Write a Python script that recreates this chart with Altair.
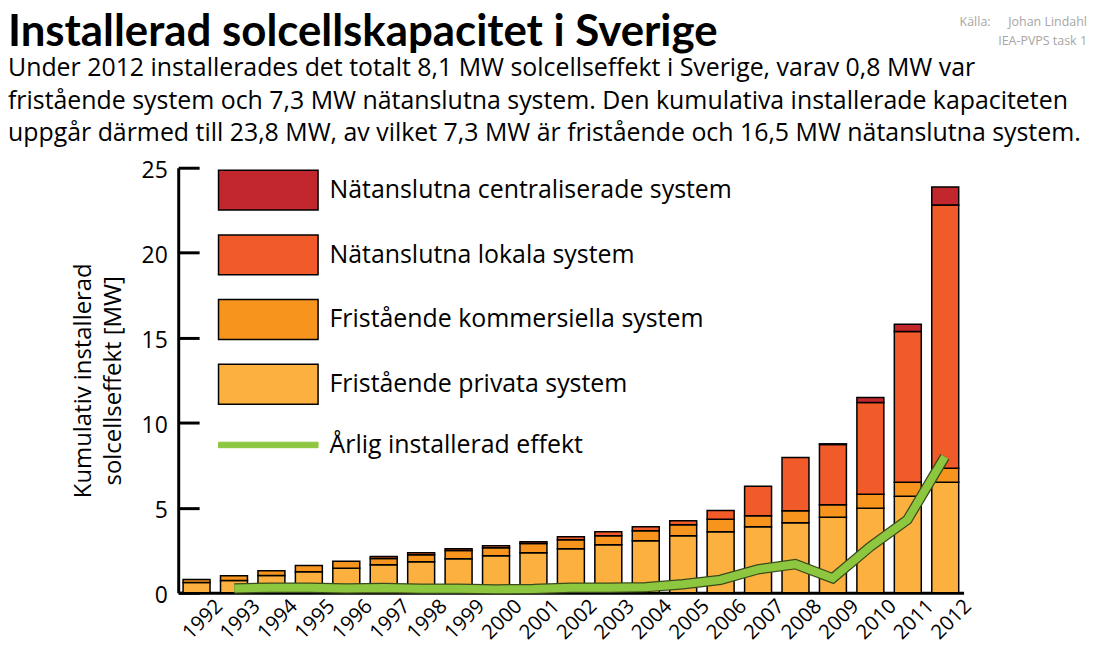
import altair as alt
import pandas as pd

FONT = "Open Sans"
TITLE_FONT = "Lato"

years = [str(y) for y in range(1992, 2013)]
privata = [0.61, 0.72, 1.01, 1.24, 1.44, 1.65, 1.83, 2.00, 2.18, 2.36, 2.59,
           2.83, 3.06, 3.36, 3.59, 3.88, 4.12, 4.44, 4.97, 5.68, 6.50]
kommersiella = [0.17, 0.28, 0.29, 0.36, 0.41, 0.36, 0.41, 0.48, 0.47, 0.54, 0.53,
                0.53, 0.59, 0.64, 0.73, 0.65, 0.71, 0.74, 0.82, 0.82, 0.82]
lokala = [0, 0, 0, 0, 0, 0.12, 0.12, 0.11, 0.12, 0.10, 0.18,
          0.23, 0.23, 0.24, 0.52, 1.73, 3.13, 3.54, 5.40, 8.86, 15.49]
centraliserade = [0, 0, 0, 0, 0, 0, 0, 0, 0, 0, 0,
                  0, 0, 0, 0, 0, 0, 0.04, 0.29, 0.43, 1.06]

line_years = ["1993", "1994", "1995", "1996", "1997", "1998", "1999", "2000", "2001", "2002",
              "2003", "2004", "2005", "2006", "2007", "2008", "2009", "2010", "2011", "2012"]
annual = [0.25, 0.30, 0.30, 0.25, 0.28, 0.23, 0.23, 0.20, 0.22, 0.30,
          0.30, 0.33, 0.50, 0.76, 1.38, 1.68, 0.85, 2.70, 4.30, 8.00]

series_names = ["Nätanslutna centraliserade system", "Nätanslutna lokala system",
                "Fristående kommersiella system", "Fristående privata system"]
series_colors = ["#c1272d", "#f15a29", "#f7941e", "#fbb040"]
line_name = "Årlig installerad effekt"

title_text = "Installerad solcellskapacitet i Sverige"
subtitle_lines = [
    "Under 2012 installerades det totalt 8,1 MW solcellseffekt i Sverige, varav 0,8 MW var",
    "fristående system och 7,3 MW nätanslutna system. Den kumulativa installerade kapaciteten",
    "uppgår därmed till 23,8 MW, av vilket 7,3 MW är fristående och 16,5 MW nätanslutna system.",
]
source_label = "Källa:"
source_lines = ["Johan Lindahl", "IEA-PVPS task 1"]

rows = []
for i, y in enumerate(years):
    for ordv, (name, vals) in enumerate([(series_names[3], privata), (series_names[2], kommersiella),
                                         (series_names[1], lokala), (series_names[0], centraliserade)]):
        rows.append({"year": y, "series": name, "value": vals[i], "ord": ordv})
df_bars = pd.DataFrame(rows)
df_line = pd.DataFrame({"year": line_years, "annual": annual, "name": line_name})

W, H = 789, 427
xscale = alt.Scale(domain=years, paddingInner=0.28, paddingOuter=0.13)
yscale = alt.Scale(domain=[0, 25], nice=False, zero=True)

bars = alt.Chart(df_bars).transform_filter("datum.value > 0").mark_bar(
    stroke="black", strokeWidth=1.5
).encode(
    x=alt.X("year:N", scale=xscale, sort=years,
            axis=alt.Axis(title=None, labelAngle=-45, labelFontSize=20.5, labelFont=FONT,
                          labelColor="black", ticks=False, domainColor="black", domainWidth=3,
                          labelPadding=3, labelOffset=16)),
    y=alt.Y("value:Q", stack="zero", scale=yscale,
            axis=alt.Axis(title=["Kumulativ installerad", "solcellseffekt [MW]"],
                          values=[0, 5, 10, 15, 20, 25], ticks=False, grid=False,
                          labelFontSize=23, labelFont=FONT, labelColor="black",
                          domainColor="black", domainWidth=3, labelPadding=11, labelOffset=3,
                          titleFont=FONT, titleFontSize=24, titleFontWeight="normal",
                          titleColor="black", titleLineHeight=30, titlePadding=16)),
    fill=alt.Fill("series:N", scale=alt.Scale(domain=series_names, range=series_colors),
                  legend=alt.Legend(title=None, orient="none", legendX=78, legendY=10,
                                    symbolType="M-10,-4H10V4H-10Z", symbolSize=100,
                                    symbolStrokeColor="black", symbolStrokeWidth=1.5,
                                    symbolOpacity=1, labelFont=FONT, labelFontSize=25,
                                    labelColor="black", labelOffset=49, rowPadding=18,
                                    labelLimit=600, padding=0)),
    order=alt.Order("ord:Q"),
)

outline = alt.Chart(df_line).mark_line(strokeWidth=10.5, color="#3b4a1a").encode(
    x=alt.X("year:N", scale=xscale, sort=years, axis=None),
    y=alt.Y("annual:Q", scale=yscale, axis=None),
)

green = alt.Chart(df_line).mark_line(strokeWidth=8).encode(
    x=alt.X("year:N", scale=xscale, sort=years,
            axis=alt.Axis(orient="top", offset=-H, labels=False, domain=False, ticks=True,
                          tickSize=10, tickWidth=3, tickColor="black", bandPosition=1.196,
                          title=None, grid=False)),
    y=alt.Y("annual:Q", scale=yscale,
            axis=alt.Axis(orient="right", offset=-W, labels=False, domain=False, ticks=True,
                          tickSize=21, tickWidth=3, tickColor="black", title=None, grid=False,
                          values=[0, 5, 10, 15, 20, 25])),
    stroke=alt.Stroke("name:N", scale=alt.Scale(domain=[line_name], range=["#8dc63f"]),
                      legend=alt.Legend(title=None, orient="none", legendX=78, legendY=266,
                                        symbolType="M-10,-0.55H10V0.55H-10Z", symbolSize=100,
                                        symbolFillColor="#8dc63f", symbolStrokeWidth=1,
                                        symbolOpacity=1, labelFont=FONT, labelFontSize=25,
                                        labelColor="black", labelOffset=49, labelLimit=600,
                                        padding=0)),
)

df_one = pd.DataFrame({"k": [0]})


def text_layer(txt, x, y, **kw):
    return alt.Chart(df_one).mark_text(**kw).encode(
        x=alt.value(x), y=alt.value(y), text=alt.value(txt))


annotations = [
    text_layer(title_text, -171, -122, align="left", baseline="alphabetic", font=TITLE_FONT,
               fontSize=44, fontWeight="bold", color="black"),
]
for i, line in enumerate(subtitle_lines):
    annotations.append(text_layer(line, -171, -92 + 32.5 * i, align="left", baseline="alphabetic",
                                  font=FONT, fontSize=25, color="black"))
annotations.append(text_layer(source_label, 785, -142, align="left", baseline="alphabetic",
                              font=FONT, fontSize=12.5, color="#a6a6a6"))
for i, line in enumerate(source_lines):
    annotations.append(text_layer(line, 913, -142 + 19 * i, align="right", baseline="alphabetic",
                                  font=FONT, fontSize=12.5, color="#a6a6a6"))

chart = alt.layer(bars, outline, green, *annotations).resolve_scale(
    x="independent", y="independent"
).properties(
    width=W, height=H,
    autosize=alt.AutoSizeParams(type="none"),
    padding={"left": 171, "top": 159, "right": 125, "bottom": 47},
).configure_view(stroke="transparent")

chart.save("out.html", embed_options={"renderer": "svg", "actions": False})
